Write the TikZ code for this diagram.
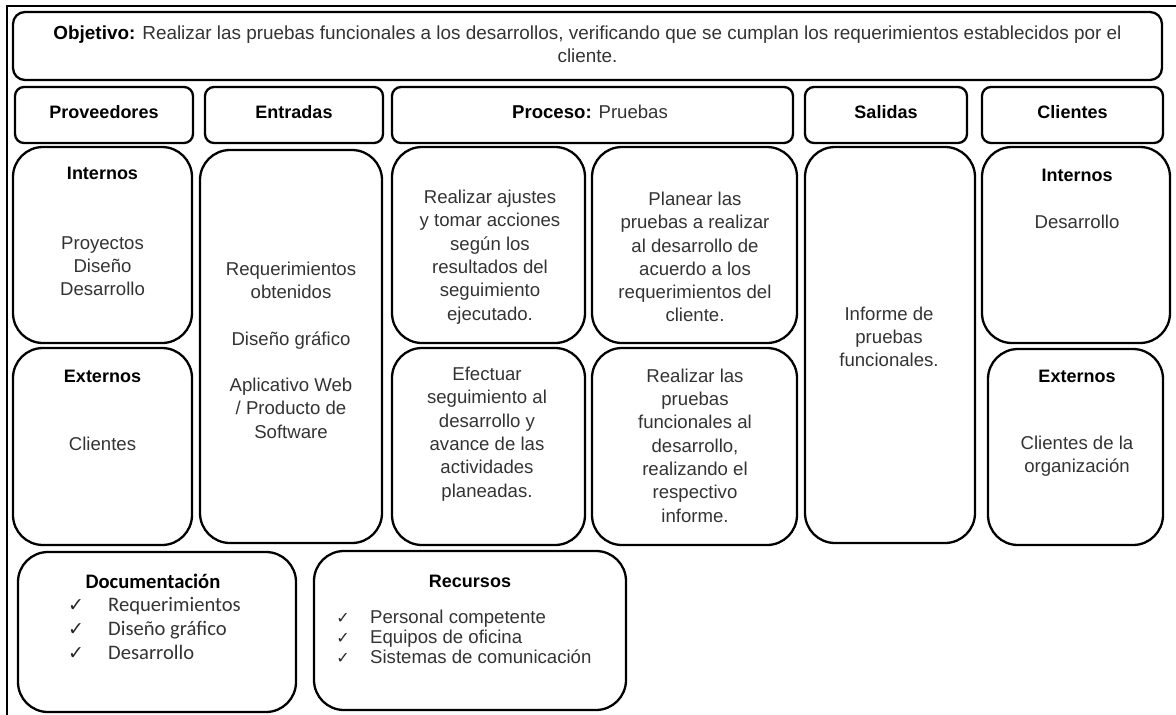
\documentclass[tikz,border=0pt]{standalone}
\usepackage{fontspec}
\setmainfont{Liberation Sans}
\newfontfamily\calibri{Carlito}
\newfontfamily\simbolos{DejaVu Sans}
\begin{document}
\begin{tikzpicture}[x=1pt, y=-1pt,
        caja/.style={draw, line width=2.3pt, rounded corners=#1, inner sep=0pt},
        caja/.default=30pt,
        titulo/.style={inner sep=0pt, font=\fontsize{18}{22}\selectfont\bfseries},
        texto/.style={inner sep=0pt, align=center, text=black!80, font=\fontsize{18.6}{23.3}\selectfont},
        marca/.style={inner sep=0pt, text=black!85, font=\simbolos\fontsize{19}{19}\selectfont}]
    \useasboundingbox (0,0) rectangle (1176,715);
    % Page frame (top and left edges only)
    \draw[line width=1.5pt] (7,715) -- (7,6) -- (1176,6);

    % Objective
    \node[caja=12pt, minimum width=1149pt, minimum height=68pt] (obj) at (587.5,46) {};
    \node[texto, font=\fontsize{18.9}{22.5}\selectfont] (obj-t) at (587.5,44) {\textcolor{black}{\bfseries Objetivo:} Realizar las pruebas funcionales a los desarrollos, verificando que se cumplan los requerimientos establecidos por el\\cliente.};

    % Column headers
    \foreach \nm/\cx/\w/\lbl in {prov/104/178/Proveedores, entr/294/178/Entradas, sal/886/162/Salidas, cli/1072.5/181/Clientes} {
        \node[caja=9pt, minimum width=\w pt, minimum height=56pt] (\nm) at (\cx,115) {};
        \node[titulo] (\nm-t) at (\cx,112) {\lbl};
    }
    \node[caja=9pt, minimum width=401pt, minimum height=56pt] (proc) at (592.5,115) {};
    \node[texto] (proc-t) at (590,112) {\textcolor{black}{\bfseries Proceso:} Pruebas};

    % Body boxes
    \foreach \nm/\cx/\cy/\w/\h in {intP/102.5/245/179/196, extP/102.5/446.5/179/197,
            entrB/291/346.5/182/393, p1/488.5/245/193/196, p2/694.5/245/205/196,
            p3/488.5/446.5/193/197, p4/694.5/446.5/205/197, salB/890/345/170/396,
            intC/1076/245/188/196, extC/1075.5/447/175/196} {
        \node[caja, minimum width=\w pt, minimum height=\h pt] (\nm) at (\cx,\cy) {};
    }

    % Proveedores
    \node[titulo] (intP-t) at (102.5,173) {Internos};
    \node[texto] (intP-x) at (102.5,266) {Proyectos\\Diseño\\Desarrollo};
    \node[titulo] (extP-t) at (102.5,376) {Externos};
    \node[texto] (extP-x) at (102.5,444) {Clientes};

    % Entradas
    \node[texto] (entrB-x) at (291,350) {Requerimientos\\obtenidos\\[23.3pt]Diseño gráfico\\[23.3pt]Aplicativo Web\\/ Producto de\\Software};

    % Proceso
    \node[texto] (p1-x) at (490,257) {Realizar ajustes\\y tomar acciones\\según los\\resultados del\\seguimiento\\ejecutado.};
    \node[texto] (p2-x) at (695,257) {Planear las\\pruebas a realizar\\al desarrollo de\\acuerdo a los\\requerimientos del\\cliente.};
    \node[texto] (p3-x) at (487,434) {Efectuar\\seguimiento al\\desarrollo y\\avance de las\\actividades\\planeadas.};
    \node[texto] (p4-x) at (695,445.5) {Realizar las\\pruebas\\funcionales al\\desarrollo,\\realizando el\\respectivo\\informe.};

    % Salidas
    \node[texto] (salB-x) at (889,337) {Informe de\\pruebas\\funcionales.};

    % Clientes
    \node[titulo] (intC-t) at (1077,175) {Internos};
    \node[texto] (intC-x) at (1077,222) {Desarrollo};
    \node[titulo] (extC-t) at (1077,376) {Externos};
    \node[texto] (extC-x) at (1077,456.5) {Clientes de la\\organización};

    % Documentacion and Recursos
    \node[caja, minimum width=278pt, minimum height=160pt] (doc) at (157,632) {};
    \node[caja, minimum width=312pt, minimum height=159pt] (rec) at (470,630.5) {};
    \node[titulo, font=\calibri\fontsize{20.6}{24}\selectfont\bfseries] (doc-t) at (153,581) {Documentación};
    \foreach \y/\nm/\item in {611/a/Requerimientos, 635/b/Diseño gráfico, 659/c/Desarrollo} {
        \node[marca, anchor=base] (doc-m\nm) at (76,\y) {✓};
        \node[texto, anchor=base west, font=\calibri\fontsize{20.6}{24}\selectfont] (doc-\nm) at (108,\y) {\item};
    }
    \node[titulo] (rec-t) at (470,581) {Recursos};
    \foreach \y/\nm/\item in {623/a/Personal competente, 643/b/Equipos de oficina, 663/c/Sistemas de comunicación} {
        \node[marca, anchor=base, font=\simbolos\fontsize{16}{16}\selectfont] (rec-m\nm) at (343,\y) {✓};
        \node[texto, anchor=base west] (rec-\nm) at (370,\y) {\item};
    }
\end{tikzpicture}
\end{document}
